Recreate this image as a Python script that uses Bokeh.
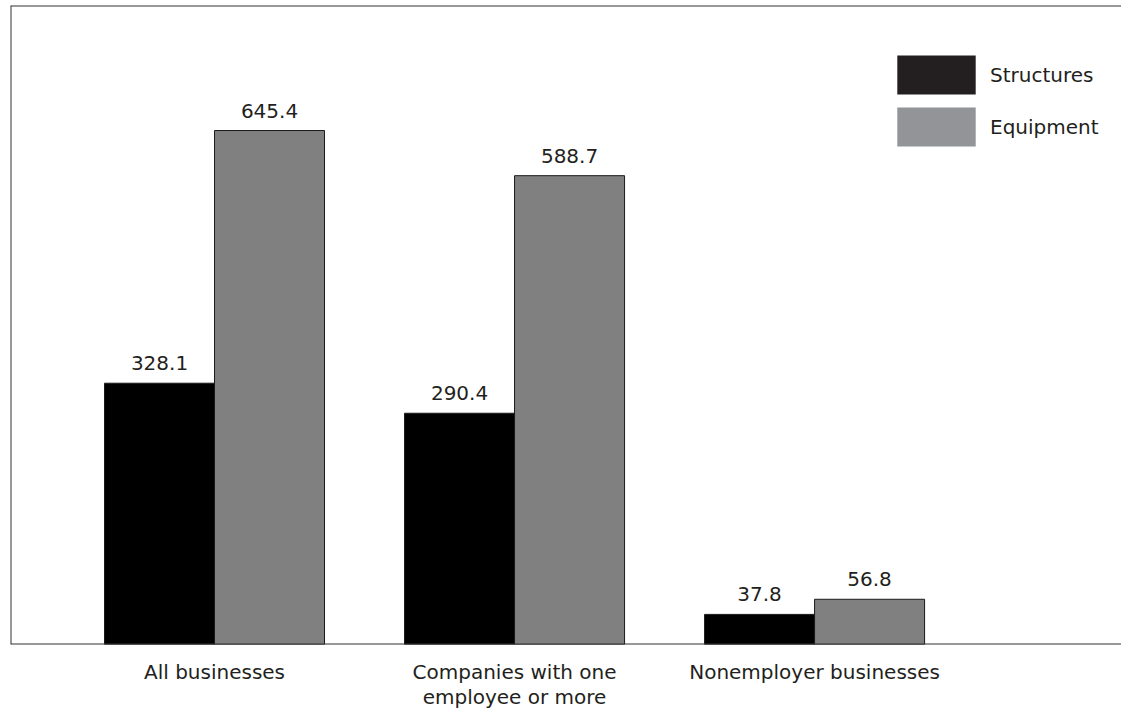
from bokeh.plotting import figure
from bokeh.models import ColumnDataSource, Span, Legend, LegendItem, FixedTicker, Range1d
from bokeh.core.properties import value
from bokeh.embed import file_html
from bokeh.resources import INLINE

categories = ["All businesses", "Companies with one\nemployee or more", "Nonemployer businesses"]
structures = [328.1, 290.4, 37.8]
equipment = [645.4, 588.7, 56.8]
series_names = ["Structures", "Equipment"]

FONT = "DejaVu Sans"
TXT = "#231f20"

x = list(range(len(categories)))
bw = 110 / 300
xs = [i - bw / 2 for i in x]
xe = [i + bw / 2 for i in x]
X0, X1 = -0.68, 3.023
Y1 = 802.4

p = figure(width=1121, height=712, output_backend="svg", toolbar_location=None,
           x_range=Range1d(X0, X1), y_range=Range1d(0, Y1),
           min_border_left=10, min_border_right=0, min_border_top=5, min_border_bottom=68)
p.outline_line_color = None
p.grid.visible = False
p.yaxis.visible = False

src_s = ColumnDataSource(dict(x=xs, top=structures, lab=[f"{v:.1f}" for v in structures]))
src_e = ColumnDataSource(dict(x=xe, top=equipment, lab=[f"{v:.1f}" for v in equipment]))

p.vbar(x="x", top="top", bottom=0, width=bw, source=src_s, fill_color="black",
       line_color="#1a1a1a", line_width=1)
p.vbar(x="x", top="top", bottom=0, width=bw, source=src_e, fill_color="#808080",
       line_color="#1a1a1a", line_width=1)

for src in (src_s, src_e):
    p.text(x="x", y="top", text="lab", source=src, text_align="center", text_baseline="alphabetic",
           y_offset=-20, text_font=value(FONT), text_font_size="20px", text_color=TXT)

# frame lines
p.add_layout(Span(location=0, dimension="width", line_color="#333333", line_width=2))
p.add_layout(Span(location=Y1, dimension="width", line_color="#333333", line_width=2))
p.add_layout(Span(location=X0, dimension="height", line_color="#333333", line_width=2))

# legend
d1 = p.vbar(x=[0], top=[0], bottom=0, width=0, fill_color="#231f20", line_color=None)
d2 = p.vbar(x=[0], top=[0], bottom=0, width=0, fill_color="#929497", line_color=None)
legend = Legend(items=[LegendItem(label=series_names[0], renderers=[d1]),
                       LegendItem(label=series_names[1], renderers=[d2])],
                location=(877, 493), glyph_width=98, glyph_height=49, spacing=3,
                label_standoff=5, padding=0, margin=0, border_line_color=None,
                background_fill_alpha=0, label_text_font=FONT, label_text_font_size="20px",
                label_text_color=TXT)
p.add_layout(legend)

ax = p.xaxis[0]
ax.ticker = FixedTicker(ticks=x)
ax.major_label_overrides = {i: c for i, c in zip(x, categories)}
ax.axis_line_color = None
ax.major_tick_line_color = None
ax.minor_tick_line_color = None
ax.major_label_standoff = 9
ax.major_label_text_font = FONT
ax.major_label_text_font_size = "20px"
ax.major_label_text_line_height = 1.05
ax.major_label_text_color = TXT

open("out.html", "w").write(file_html(p, INLINE))
